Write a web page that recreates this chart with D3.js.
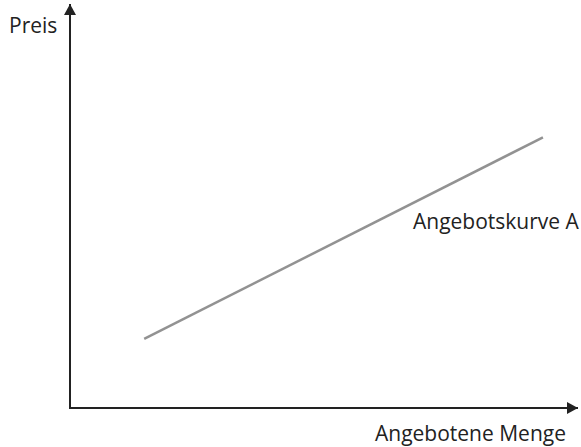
<!DOCTYPE html>
<html><head><meta charset="utf-8">
<script src="https://cdn.jsdelivr.net/npm/d3@7"></script>
<style>body{margin:0;background:#fff}svg{display:block;font-family:"Open Sans",sans-serif}</style>
</head><body>
<script>
const quantity = [1.46, 9.31];
const price = [1.71, 6.7];
const xLabel = "Angebotene Menge";
const yLabel = "Preis";
const curveLabel = "Angebotskurve A";

const W = 581, H = 447;
const svg = d3.select("body").append("svg").attr("width", W).attr("height", H);
const x = d3.scaleLinear().domain([0, 10]).range([70, 578]);
const y = d3.scaleLinear().domain([0, 10]).range([408, 4]);

const defs = svg.append("defs");
defs.append("marker").attr("id","arr").attr("viewBox","0 0 11 12")
  .attr("refX",11).attr("refY",6).attr("markerWidth",11).attr("markerHeight",12)
  .attr("markerUnits","userSpaceOnUse").attr("orient","auto")
  .append("path").attr("d","M0,0L11,6L0,12Z").attr("fill","#222");

svg.append("line").attr("x1",x(0)).attr("y1",y(0)+1).attr("x2",x(0)).attr("y2",y(10))
  .attr("stroke","#222").attr("stroke-width",2).attr("marker-end","url(#arr)");
svg.append("line").attr("x1",x(0)-1).attr("y1",y(0)).attr("x2",x(10)).attr("y2",y(0))
  .attr("stroke","#222").attr("stroke-width",2).attr("marker-end","url(#arr)");

const pts = quantity.map((q,i)=>[q, price[i]]);
svg.append("path").datum(pts)
  .attr("d", d3.line().x(d=>x(d[0])).y(d=>y(d[1])))
  .attr("fill","none").attr("stroke","#929292").attr("stroke-width",2.5);

const fs = 21;
svg.append("text").attr("x",9).attr("y",33).attr("font-size",fs).attr("fill","#222").text(yLabel);
svg.append("text").attr("x",375).attr("y",441).attr("font-size",fs).attr("fill","#222").text(xLabel);
svg.append("text").attr("x",413).attr("y",229).attr("font-size",fs).attr("fill","#222").text(curveLabel);
</script>
</body></html>
